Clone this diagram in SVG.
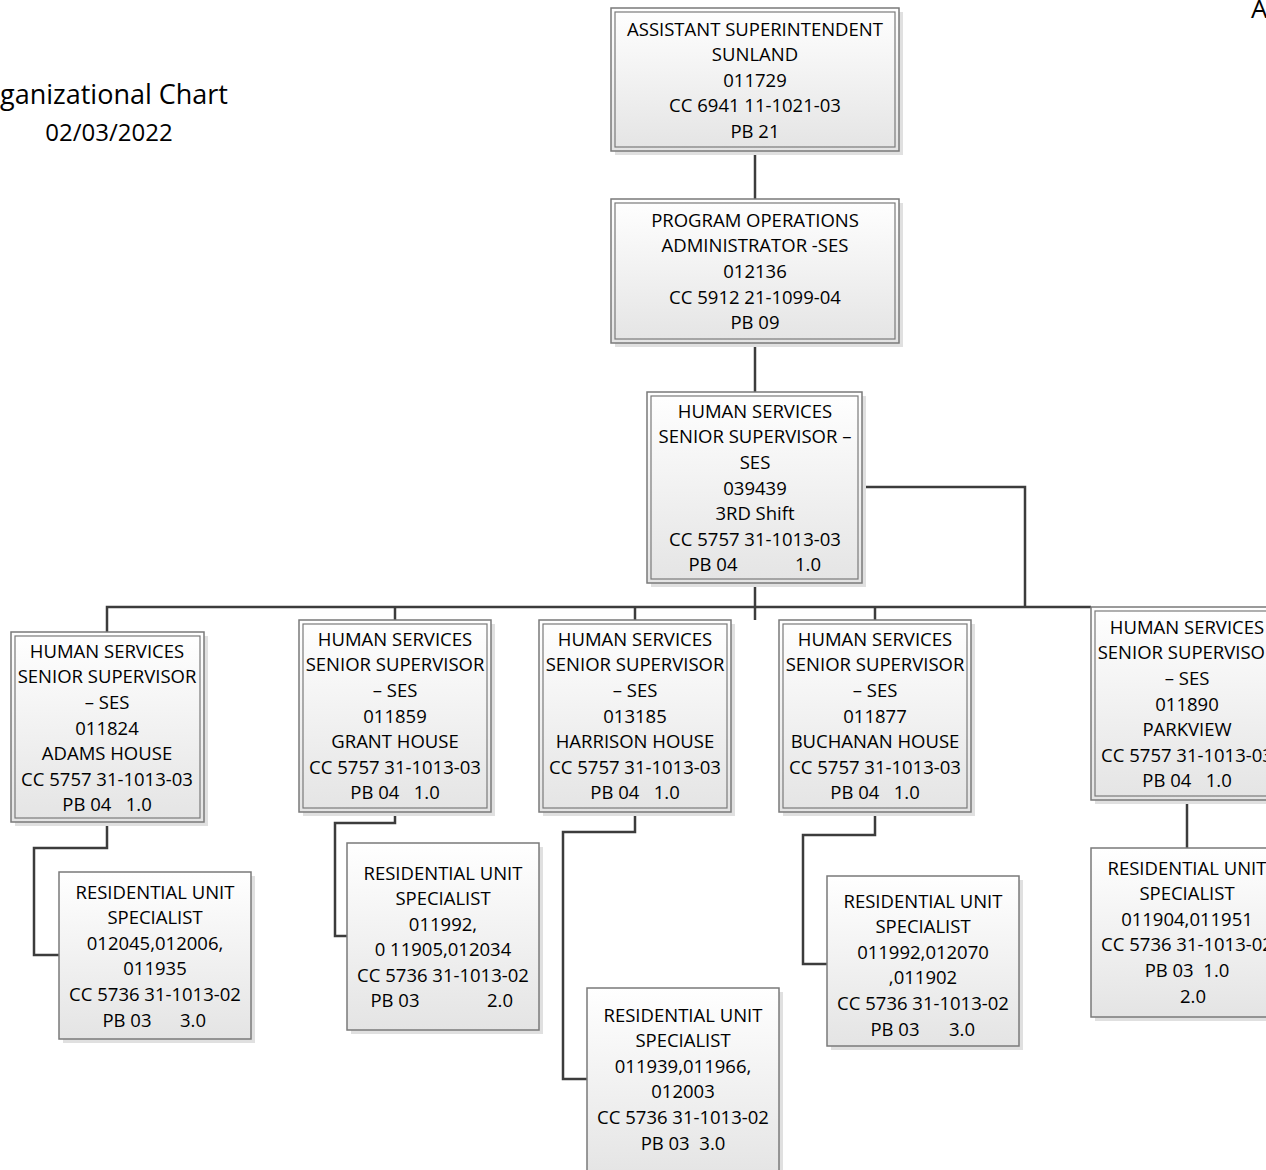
<svg xmlns="http://www.w3.org/2000/svg" width="1266" height="1170" viewBox="0 0 1266 1170">
<defs>
<linearGradient id="g" x1="0" y1="0" x2="0" y2="1">
<stop offset="0" stop-color="#ffffff"/>
<stop offset="1" stop-color="#e4e4e4"/>
</linearGradient>
<style>
.sh{fill:#e0e0e0}
.o{fill:url(#g);stroke:#7a7a7a;stroke-width:1.5}
.i{fill:none;stroke:#7a7a7a;stroke-width:1.2}
.t{font-family:"Open Sans","DejaVu Sans",sans-serif;font-size:18.5px;fill:#000000;text-anchor:middle}
.ttl{font-family:"Open Sans","DejaVu Sans",sans-serif;font-size:24px;fill:#000000;text-anchor:middle}
.c{fill:none;stroke:#3c3c3c;stroke-width:2.5}
</style>
</defs>
<rect width="1266" height="1170" fill="#ffffff"/>
<text class="ttl" x="228" y="104" style="text-anchor:end;font-size:27px">ganizational Chart</text>
<text class="ttl" x="109" y="141">02/03/2022</text>
<text class="ttl" x="1251" y="18" style="text-anchor:start;font-size:26px">A</text>

<g id="connectors">
<path class="c" d="M755 151V199"/>
<path class="c" d="M755 343V392"/>
<path class="c" d="M755 583V620"/>
<path class="c" d="M862 487H1025V607"/>
<path class="c" d="M107 632V607H1091"/>
<path class="c" d="M395 607V620"/>
<path class="c" d="M635 607V620"/>
<path class="c" d="M875 607V620"/>
<path class="c" d="M107 822V848H34V955H59"/>
<path class="c" d="M395 812V823H335V936H347"/>
<path class="c" d="M635 812V832H563V1079H587"/>
<path class="c" d="M875 812V835H803V964H827"/>
<path class="c" d="M1187 800V848"/>
</g>

<g id="n-asst">
<rect class="sh" x="615" y="12" width="288" height="143"/>
<rect class="o" x="611" y="8" width="288" height="143"/>
<rect class="i" x="615" y="12" width="280" height="135"/>
<text class="t" x="755" y="35.5">ASSISTANT SUPERINTENDENT</text>
<text class="t" x="755" y="61">SUNLAND</text>
<text class="t" x="755" y="86.5">011729</text>
<text class="t" x="755" y="112">CC 6941 11-1021-03</text>
<text class="t" x="755" y="137.5">PB 21</text>
</g>

<g id="n-poa">
<rect class="sh" x="615" y="203" width="288" height="144"/>
<rect class="o" x="611" y="199" width="288" height="144"/>
<rect class="i" x="615" y="203" width="280" height="136"/>
<text class="t" x="755" y="226.5">PROGRAM OPERATIONS</text>
<text class="t" x="755" y="252">ADMINISTRATOR -SES</text>
<text class="t" x="755" y="278">012136</text>
<text class="t" x="755" y="303.5">CC 5912 21-1099-04</text>
<text class="t" x="755" y="329">PB 09</text>
</g>

<g id="n-hss3">
<rect class="sh" x="651" y="396" width="215" height="191"/>
<rect class="o" x="647" y="392" width="215" height="191"/>
<rect class="i" x="651" y="396" width="207" height="183"/>
<text class="t" x="755" y="417.5">HUMAN SERVICES</text>
<text class="t" x="755" y="443">SENIOR SUPERVISOR –</text>
<text class="t" x="755" y="468.5">SES</text>
<text class="t" x="755" y="494.5">039439</text>
<text class="t" x="755" y="519.5">3RD Shift</text>
<text class="t" x="755" y="545.5">CC 5757 31-1013-03</text>
<text class="t"><tspan x="713" y="570.5">PB 04</tspan><tspan x="808" y="570.5">1.0</tspan></text>
</g>

<g id="n-adams">
<rect class="sh" x="15" y="636" width="193" height="190"/>
<rect class="o" x="11" y="632" width="193" height="190"/>
<rect class="i" x="15" y="636" width="185" height="182"/>
<text class="t" x="107" y="657.5">HUMAN SERVICES</text>
<text class="t" x="107" y="682.5">SENIOR SUPERVISOR</text>
<text class="t" x="107" y="708.5">– SES</text>
<text class="t" x="107" y="734.5">011824</text>
<text class="t" x="107" y="759.5">ADAMS HOUSE</text>
<text class="t" x="107" y="785.5">CC 5757 31-1013-03</text>
<text class="t" x="107" y="810.5" xml:space="preserve">PB 04   1.0</text>
</g>

<g id="n-grant">
<rect class="sh" x="303" y="624" width="192" height="192"/>
<rect class="o" x="299" y="620" width="192" height="192"/>
<rect class="i" x="303" y="624" width="184" height="184"/>
<text class="t" x="395" y="645.5">HUMAN SERVICES</text>
<text class="t" x="395" y="670.5">SENIOR SUPERVISOR</text>
<text class="t" x="395" y="696.5">– SES</text>
<text class="t" x="395" y="722.5">011859</text>
<text class="t" x="395" y="747.5">GRANT HOUSE</text>
<text class="t" x="395" y="773.5">CC 5757 31-1013-03</text>
<text class="t" x="395" y="798.5" xml:space="preserve">PB 04   1.0</text>
</g>

<g id="n-harrison">
<rect class="sh" x="543" y="624" width="192" height="192"/>
<rect class="o" x="539" y="620" width="192" height="192"/>
<rect class="i" x="543" y="624" width="184" height="184"/>
<text class="t" x="635" y="645.5">HUMAN SERVICES</text>
<text class="t" x="635" y="670.5">SENIOR SUPERVISOR</text>
<text class="t" x="635" y="696.5">– SES</text>
<text class="t" x="635" y="722.5">013185</text>
<text class="t" x="635" y="747.5">HARRISON HOUSE</text>
<text class="t" x="635" y="773.5">CC 5757 31-1013-03</text>
<text class="t" x="635" y="798.5" xml:space="preserve">PB 04   1.0</text>
</g>

<g id="n-buchanan">
<rect class="sh" x="783" y="624" width="192" height="192"/>
<rect class="o" x="779" y="620" width="192" height="192"/>
<rect class="i" x="783" y="624" width="184" height="184"/>
<text class="t" x="875" y="645.5">HUMAN SERVICES</text>
<text class="t" x="875" y="670.5">SENIOR SUPERVISOR</text>
<text class="t" x="875" y="696.5">– SES</text>
<text class="t" x="875" y="722.5">011877</text>
<text class="t" x="875" y="747.5">BUCHANAN HOUSE</text>
<text class="t" x="875" y="773.5">CC 5757 31-1013-03</text>
<text class="t" x="875" y="798.5" xml:space="preserve">PB 04   1.0</text>
</g>

<g id="n-parkview">
<rect class="sh" x="1095" y="611" width="192" height="193"/>
<rect class="o" x="1091" y="607" width="192" height="193"/>
<rect class="i" x="1095" y="611" width="184" height="185"/>
<text class="t" x="1187" y="633.5">HUMAN SERVICES</text>
<text class="t" x="1187" y="658.5">SENIOR SUPERVISOR</text>
<text class="t" x="1187" y="684.5">– SES</text>
<text class="t" x="1187" y="710.5">011890</text>
<text class="t" x="1187" y="735.5">PARKVIEW</text>
<text class="t" x="1187" y="761.5">CC 5757 31-1013-03</text>
<text class="t" x="1187" y="786.5" xml:space="preserve">PB 04   1.0</text>
</g>

<g id="n-rus-adams">
<rect class="sh" x="63" y="876" width="192" height="167"/>
<rect class="o" x="59" y="872" width="192" height="167"/>
<text class="t" x="155" y="898.5">RESIDENTIAL UNIT</text>
<text class="t" x="155" y="923.5">SPECIALIST</text>
<text class="t" x="155" y="949.5">012045,012006,</text>
<text class="t" x="155" y="974.5">011935</text>
<text class="t" x="155" y="1000.5">CC 5736 31-1013-02</text>
<text class="t"><tspan x="127" y="1026.5">PB 03</tspan><tspan x="193" y="1026.5">3.0</tspan></text>
</g>

<g id="n-rus-grant">
<rect class="sh" x="351" y="847" width="192" height="187"/>
<rect class="o" x="347" y="843" width="192" height="187"/>
<text class="t" x="443" y="879.5">RESIDENTIAL UNIT</text>
<text class="t" x="443" y="904.5">SPECIALIST</text>
<text class="t" x="443" y="930.5">011992,</text>
<text class="t" x="443" y="955.5">0 11905,012034</text>
<text class="t" x="443" y="981.5">CC 5736 31-1013-02</text>
<text class="t"><tspan x="395" y="1006.5">PB 03</tspan><tspan x="500" y="1006.5">2.0</tspan></text>
</g>

<g id="n-rus-harrison">
<rect class="sh" x="591" y="992" width="192" height="190"/>
<rect class="o" x="587" y="988" width="192" height="190"/>
<text class="t" x="683" y="1021.5">RESIDENTIAL UNIT</text>
<text class="t" x="683" y="1046.5">SPECIALIST</text>
<text class="t" x="683" y="1072.5">011939,011966,</text>
<text class="t" x="683" y="1097.5">012003</text>
<text class="t" x="683" y="1123.5">CC 5736 31-1013-02</text>
<text class="t" x="683" y="1149.5" xml:space="preserve">PB 03  3.0</text>
</g>

<g id="n-rus-buchanan">
<rect class="sh" x="831" y="880" width="192" height="170"/>
<rect class="o" x="827" y="876" width="192" height="170"/>
<text class="t" x="923" y="907.5">RESIDENTIAL UNIT</text>
<text class="t" x="923" y="932.5">SPECIALIST</text>
<text class="t" x="923" y="958.5">011992,012070</text>
<text class="t" x="923" y="983.5">,011902</text>
<text class="t" x="923" y="1009.5">CC 5736 31-1013-02</text>
<text class="t"><tspan x="895" y="1035.5">PB 03</tspan><tspan x="962" y="1035.5">3.0</tspan></text>
</g>

<g id="n-rus-parkview">
<rect class="sh" x="1095" y="852" width="192" height="169"/>
<rect class="o" x="1091" y="848" width="192" height="169"/>
<text class="t" x="1187" y="874.5">RESIDENTIAL UNIT</text>
<text class="t" x="1187" y="899.5">SPECIALIST</text>
<text class="t" x="1187" y="925.5">011904,011951</text>
<text class="t" x="1187" y="950.5">CC 5736 31-1013-02</text>
<text class="t" x="1187" y="976.5" xml:space="preserve">PB 03  1.0</text>
<text class="t" x="1193" y="1002.5">2.0</text>
</g>
</svg>
